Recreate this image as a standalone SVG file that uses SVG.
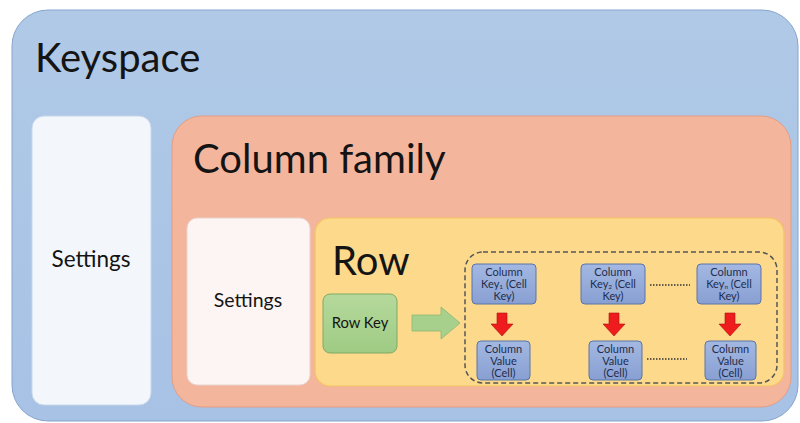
<svg xmlns="http://www.w3.org/2000/svg" width="800" height="423" viewBox="0 0 800 423">
  <style>
    text { font-family: Lato, "Open Sans", "Liberation Sans", sans-serif; fill: #141414; }
    .title { font-size: 40px; }
    .cell { font-size: 11px; fill: #1f2d4d; text-anchor: middle; }
    .colbox { fill: url(#blueGrad); stroke: #5b74a8; stroke-width: 1; }
    .redArrow { fill: #ee1c1c; stroke: #b01010; stroke-width: 0.6; }
    .dots { stroke: #333; stroke-width: 1.5; stroke-dasharray: 1.5 1.5; }
  </style>
  <defs>
    <linearGradient id="blueGrad" x1="0" y1="0" x2="0" y2="1">
      <stop offset="0" stop-color="#a3b8e2"/>
      <stop offset="1" stop-color="#889fd2"/>
    </linearGradient>
    <linearGradient id="greenGrad" x1="0" y1="0" x2="0" y2="1">
      <stop offset="0" stop-color="#b5d99c"/>
      <stop offset="1" stop-color="#9fcb84"/>
    </linearGradient>
    <linearGradient id="ksGrad" x1="0" y1="0" x2="0" y2="1">
      <stop offset="0" stop-color="#b0c9e7"/>
      <stop offset="1" stop-color="#a7c2e5"/>
    </linearGradient>
  </defs>

  <!-- Keyspace container -->
  <g id="keyspace">
    <rect x="12" y="10" width="786" height="411" rx="36" fill="url(#ksGrad)" stroke="#86a5cc" stroke-width="1"/>
    <text class="title" x="35" y="72" font-size="41.5">Keyspace</text>
  </g>

  <!-- Keyspace settings -->
  <g id="keyspace-settings">
    <rect x="32" y="116" width="119" height="289" rx="12" fill="#f3f7fb" stroke="#c8d7ea" stroke-width="1"/>
    <text x="91" y="267" font-size="22.5" text-anchor="middle">Settings</text>
  </g>

  <!-- Column family container -->
  <g id="column-family">
    <rect x="172" y="116" width="619" height="291" rx="30" fill="#f4b59d" stroke="#e49d82" stroke-width="1"/>
    <text class="title" x="193" y="173" font-size="40.5">Column family</text>
  </g>

  <!-- Column family settings -->
  <g id="cf-settings">
    <rect x="187" y="218" width="123" height="167" rx="10" fill="#fcf5f3" stroke="#e8d3cc" stroke-width="1"/>
    <text x="248" y="307" font-size="19.5" text-anchor="middle">Settings</text>
  </g>

  <!-- Row container -->
  <g id="row">
    <rect x="315" y="218" width="469" height="168" rx="15" fill="#fdd98c" stroke="#f4c460" stroke-width="1.2"/>
    <text class="title" x="332" y="275" font-size="37">Row</text>
  </g>

  <!-- Row key -->
  <g id="row-key">
    <rect x="323" y="294" width="74" height="59" rx="7" fill="url(#greenGrad)" stroke="#7ea962" stroke-width="1"/>
    <text x="360" y="328" font-size="14.8" text-anchor="middle">Row Key</text>
  </g>

  <!-- Columns group (dashed boundary) -->
  <g id="columns">
    <rect x="465" y="252" width="312" height="131" rx="18" fill="none" stroke="#555" stroke-width="1.5" stroke-dasharray="5 3"/>
  </g>

  <g id="col-key-1">
    <rect class="colbox" x="472" y="264" width="64" height="40" rx="4"/>
    <text class="cell" x="504" y="275.5">Column</text>
    <text class="cell" x="504" y="287.5">Key<tspan font-size="6.5" dy="1.5">1</tspan><tspan dy="-1.5"> (Cell</tspan></text>
    <text class="cell" x="504" y="299.5">Key)</text>
  </g>
  <g id="col-key-2">
    <rect class="colbox" x="581" y="264" width="64" height="40" rx="4"/>
    <text class="cell" x="613" y="275.5">Column</text>
    <text class="cell" x="613" y="287.5">Key<tspan font-size="6.5" dy="1.5">2</tspan><tspan dy="-1.5"> (Cell</tspan></text>
    <text class="cell" x="613" y="299.5">Key)</text>
  </g>
  <g id="col-key-n">
    <rect class="colbox" x="697" y="264" width="64" height="40" rx="4"/>
    <text class="cell" x="729" y="275.5">Column</text>
    <text class="cell" x="729" y="287.5">Key<tspan font-size="6.5" dy="1.5">n</tspan><tspan dy="-1.5"> (Cell</tspan></text>
    <text class="cell" x="729" y="299.5">Key)</text>
  </g>

  <g id="col-value-1">
    <rect class="colbox" x="477" y="341" width="53" height="39" rx="4"/>
    <text class="cell" x="503.5" y="352.5">Column</text>
    <text class="cell" x="503.5" y="364.5">Value</text>
    <text class="cell" x="503.5" y="376.5">(Cell)</text>
  </g>
  <g id="col-value-2">
    <rect class="colbox" x="589" y="341" width="53" height="39" rx="4"/>
    <text class="cell" x="615.5" y="352.5">Column</text>
    <text class="cell" x="615.5" y="364.5">Value</text>
    <text class="cell" x="615.5" y="376.5">(Cell)</text>
  </g>
  <g id="col-value-n">
    <rect class="colbox" x="705" y="341" width="51" height="39" rx="4"/>
    <text class="cell" x="730.5" y="352.5">Column</text>
    <text class="cell" x="730.5" y="364.5">Value</text>
    <text class="cell" x="730.5" y="376.5">(Cell)</text>
  </g>

  <!-- Connectors -->
  <g id="connectors">
    <!-- block arrow from row key to columns -->
    <path d="M412,315 H441 V307 L460,323 L441,339 V331 H412 Z" fill="#a8d08d" stroke="#8cb872" stroke-width="0.8"/>
    <!-- key to value arrows -->
    <path class="redArrow" d="M497,313 H507 V324 H513 L502,336 L491,324 H497 Z"/>
    <path class="redArrow" d="M609,313 H619 V324 H625 L614,336 L603,324 H609 Z"/>
    <path class="redArrow" d="M725,313 H735 V324 H741 L730,336 L719,324 H725 Z"/>
    <!-- ellipsis between columns -->
    <line class="dots" x1="650" y1="285" x2="690" y2="285"/>
    <line class="dots" x1="647" y1="359" x2="687" y2="359"/>
  </g>
</svg>
